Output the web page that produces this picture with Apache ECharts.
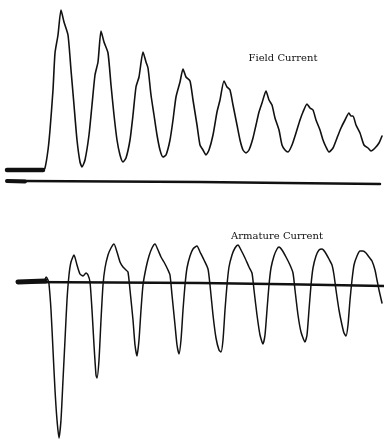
<!DOCTYPE html>
<html><head><meta charset="utf-8">
<script src="https://cdn.jsdelivr.net/npm/echarts@6/dist/echarts.min.js"></script>
<style>html,body{margin:0;padding:0;background:#fff}#c{width:384px;height:441px}</style>
</head><body><div id="c"></div>
<script>
// Oscillogram readings: time (x) and trace deflection (y, read downward on the plate)
var fieldTime = [7,43,45,48,50,53,55,58,61,64,68,71,74,77,80,82,85,89,92,95,98,101,104,108,111,114,117,120,123,126,130,133,136,139,143,146,148,151,154,157,160,163,166,170,173,176,180,183,186,190,193,197,200,203,206,209,213,217,220,224,227,230,233,237,240,243,246,249,253,256,259,262,266,269,272,275,279,282,285,288,292,296,300,303,307,310,313,316,320,323,326,329,333,337,341,345,349,351,353,356,360,364,368,371,375,379,382];
var fieldCurrent = [170,170,168,150,130,90,53,35,10,22,35,70,105,140,162,167,160,135,105,75,62,31,42,53,85,115,140,155,162,158,140,115,87,77,52,62,68,95,115,135,150,157,155,140,120,97,82,69,77,81,100,125,145,150,155,150,135,112,100,81,87,90,105,125,140,150,153,150,138,125,112,103,91,100,105,118,130,145,150,152,145,133,120,112,104,108,110,120,130,140,147,152,148,138,128,120,113,116,116,125,133,145,148,151,148,143,136];
var fieldRestTime = [7,43];
var fieldRest = [170,170];
var fieldZeroTime = [7,25,200,380];
var fieldZero = [181,181,182,184];
var fieldZeroMarkTime = [7,25];
var fieldZeroMark = [181,181.5];

var armTime = [45,46,48,49,51,53,55,57,59,61,63,65,67,69,71,74,77,80,83,86,88,90,92,94,96,97,99,101,103,105,108,111,114,117,120,123,126,128,130,133,135,137,139,141,143,146,149,152,155,158,161,164,168,170,172,175,177,179,181,183,185,187,190,193,197,200,204,208,210,213,216,219,221,223,225,227,229,232,235,238,241,245,249,252,254,257,260,263,265,267,269,271,274,277,279,282,286,290,293,295,298,301,305,307,309,311,313,316,319,322,325,329,332,334,336,339,342,344,346,348,350,352,354,357,360,363,366,369,372,375,377,379,382];
var armatureCurrent = [280,277,280,284,310,350,390,420,438,420,380,340,300,275,262,255,265,274,276,273,275,282,310,345,375,378,360,320,285,268,255,248,244,252,262,267,270,272,290,320,345,356,340,310,285,268,256,248,244,250,257,262,270,275,295,325,345,354,340,310,285,268,256,249,246,252,260,269,285,315,338,350,352,340,310,285,267,255,248,245,250,258,267,273,290,315,335,344,335,310,285,268,256,249,247,250,257,265,273,290,315,332,342,335,310,285,268,256,250,249,252,259,265,275,290,310,325,333,336,325,300,280,265,256,251,251,253,257,261,270,280,290,303];
var armRestTime = [18,45];
var armRest = [282,281];
var armZeroTime = [18,200,384];
var armZero = [282,283,286];

var labels = ['Field Current', 'Armature Current'];

function pairs(xs, ys){ return xs.map(function(x,i){ return [x, ys[i]]; }); }
var ink = '#111';
function line(name, xs, ys, w, gi){
  return {type:'line', name:name, data:pairs(xs,ys), xAxisIndex:gi, yAxisIndex:gi,
    showSymbol:false, symbol:'none', smooth:0.2, animation:false,
    lineStyle:{color:ink, width:w, join:'round', cap:'round'}};
}
var chart = echarts.init(document.getElementById('c'), null, {renderer:'canvas'});
chart.setOption({
  backgroundColor:'#fff',
  animation:false,
  title:[
    {text:labels[0], left:278, top:48, textAlign:'center',
     textStyle:{fontFamily:'DejaVu Serif', fontSize:10, fontWeight:'normal', color:ink}},
    {text:labels[1], left:272, top:226, textAlign:'center',
     textStyle:{fontFamily:'DejaVu Serif', fontSize:10, fontWeight:'normal', color:ink}}
  ],
  grid:[
    {left:0, right:0, top:0, height:200},
    {left:0, right:0, top:200, height:241}
  ],
  xAxis:[
    {type:'value', gridIndex:0, min:0, max:384, show:false},
    {type:'value', gridIndex:1, min:0, max:384, show:false}
  ],
  yAxis:[
    {type:'value', gridIndex:0, min:0, max:200, inverse:true, show:false},
    {type:'value', gridIndex:1, min:200, max:441, inverse:true, show:false}
  ],
  series:[
    line('Field zero', fieldZeroTime, fieldZero, 2.5, 0),
    line('Field zero mark', fieldZeroMarkTime, fieldZeroMark, 4, 0),
    line('Field rest', fieldRestTime, fieldRest, 4.5, 0),
    line('Field Current', fieldTime, fieldCurrent, 1.6, 0),
    line('Armature zero', armZeroTime, armZero, 2.5, 1),
    line('Armature rest', armRestTime, armRest, 5, 1),
    line('Armature Current', armTime, armatureCurrent, 1.5, 1)
  ]
});
</script></body></html>
